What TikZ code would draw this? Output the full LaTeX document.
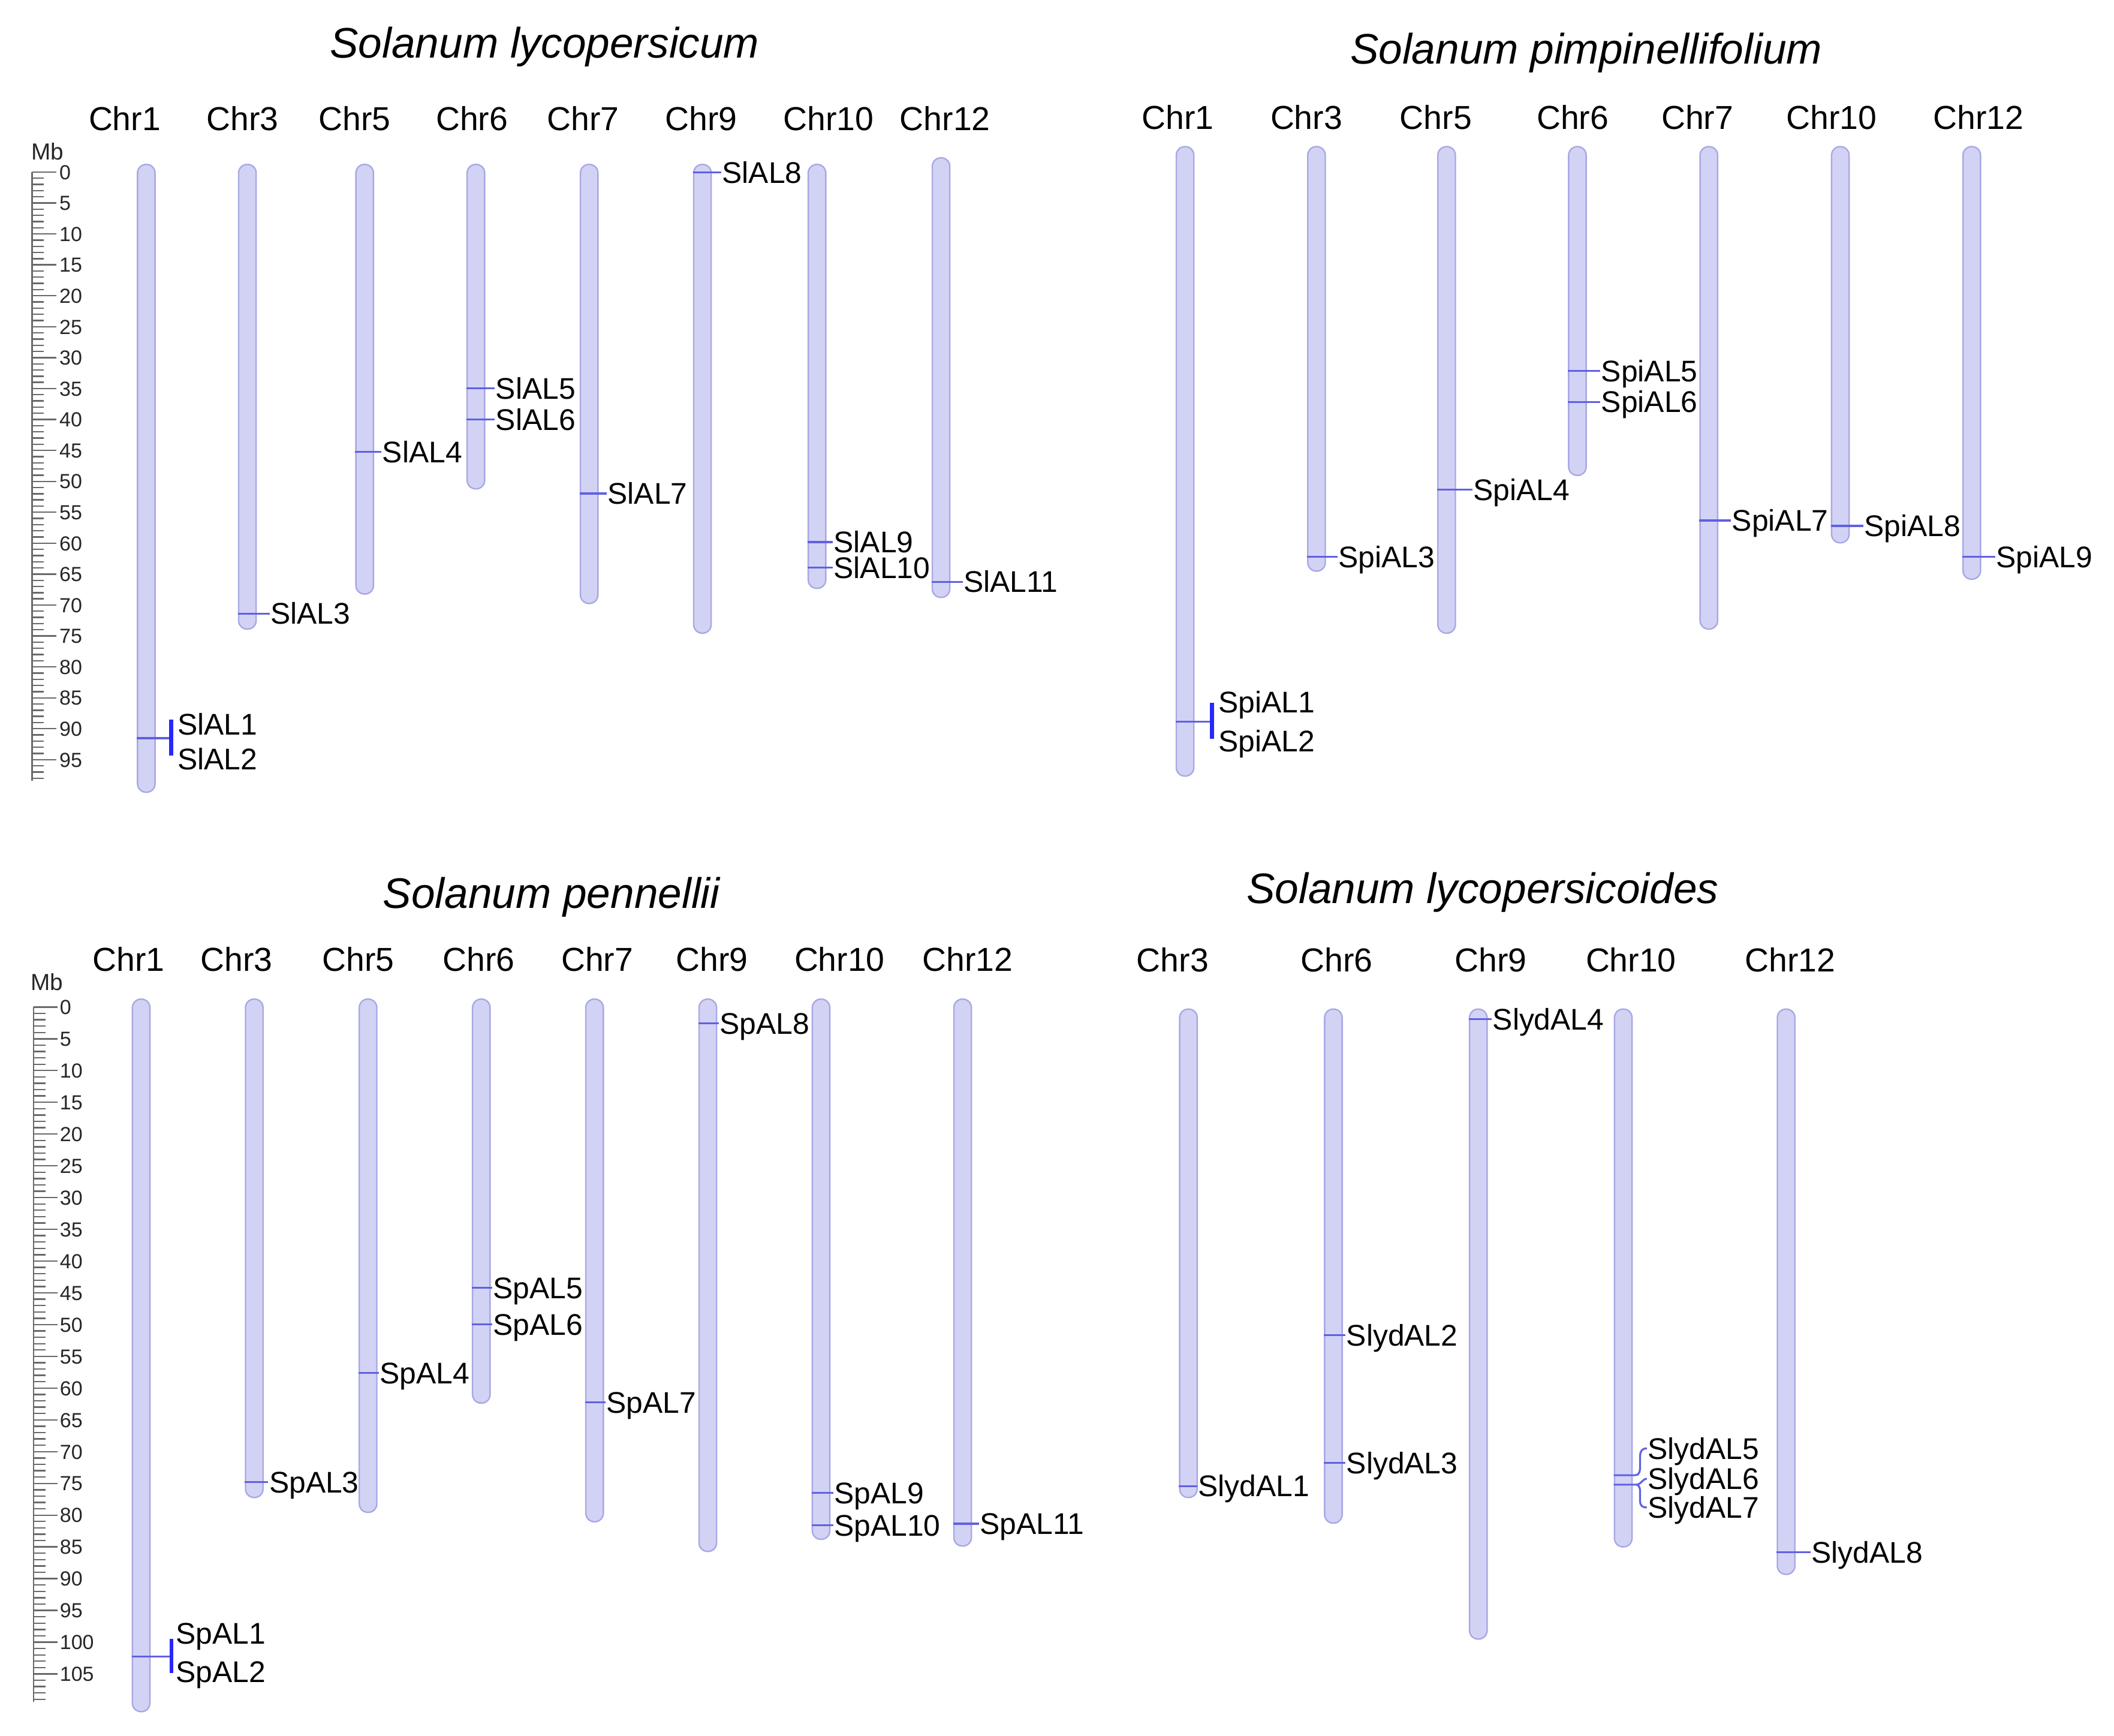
\documentclass[tikz,border=0pt]{standalone}
\usepackage{fontspec}
\setmainfont{Liberation Sans}

\definecolor{chrfill}{RGB}{210,210,245}
\definecolor{chredge}{RGB}{168,168,228}
\definecolor{marker}{RGB}{96,96,226}
\definecolor{brack}{RGB}{40,40,250}
\definecolor{ruler}{RGB}{105,105,105}

\tikzset{
  species/.style={anchor=base, inner sep=0pt, font=\fontsize{9}{11}\selectfont\itshape},
  chrname/.style={anchor=base, inner sep=0pt, font=\fontsize{7}{8}\selectfont},
  chrbar/.style={rectangle, anchor=north, inner sep=0pt, minimum width=0.13cm,
    fill=chrfill, draw=chredge, line width=0.3pt, rounded corners=1.8pt},
  gene/.style={anchor=west, inner sep=0pt, text height=4.5pt, text depth=0pt,
    font=\fontsize{6.3}{7}\selectfont},
  genemark/.style={draw=marker, line width=0.4pt},
  bracket/.style={draw=brack, line width=0.85pt},
  rulertick/.style={draw=ruler, line width=0.3pt},
  ticklabel/.style={anchor=west, inner sep=0pt, text height=3.1pt, text depth=0pt,
    font=\fontsize{4.3}{5}\selectfont, text=black!85},
  mbunit/.style={anchor=base west, inner sep=0pt, font=\fontsize{4.9}{5}\selectfont, text=black!85}
}

\newcommand{\gene}[4]{%
  \node[gene] (#4) at (#2,#3) {#4};
  \draw[genemark] (#1.west |- #4.west) -- (#4.west);}

\begin{document}
\begin{tikzpicture}[x=0.01cm, y=-0.01cm]
\path[use as bounding box, fill=white] (0,0) rectangle (1568,1287);

% Solanum lycopersicum
\node[species] (lyc) at (404,43) {Solanum lycopersicum};
\node[mbunit] (lyc-mb) at (22.5,118.5) {Mb};
\draw[rulertick] (23.8,127.6) -- (23.8,579);
\foreach \m in {0,...,98} \draw[rulertick] (23.8,{127.6+4.587*\m}) -- ++(8.5,0);
\foreach \m in {0,5,...,95}{
  \draw[rulertick] (23.8,{127.6+4.587*\m}) -- ++(17.8,0);
  \node[ticklabel] (lyc-t\m) at (43.4,{127.6+4.587*\m}) {\m};
}
\foreach \c/\lx/\x/\t/\b in {1/92.5/108.5/121.4/587, 3/180/183.5/121.4/466,
    5/263/270.5/121.4/440, 6/350/353/121.4/362, 7/432.5/437/121.4/447,
    9/520/521/121.4/469, 10/614.5/606/121.4/435.8, 12/701/698/116.5/442.5}{
  \node[chrname] (lyc\c-name) at (\lx,96.5) {Chr\c};
  \pgfmathsetmacro\len{(\b-\t)*0.01}
  \node[chrbar, minimum height=\len cm] (lyc\c) at (\x,\t) {};
}
\node[gene] (SlAL1) at (131,537) {SlAL1};
\node[gene] (SlAL2) at (131,562.8) {SlAL2};
\coordinate (lyc-j) at (127,547.4);
\draw[genemark] (lyc1.west |- lyc-j) -- (lyc-j);
\draw[bracket] (lyc-j) ++(0,-13.8) -- ++(0,26.7);
\gene{lyc3}{200}{455}{SlAL3}
\gene{lyc5}{283}{335}{SlAL4}
\gene{lyc6}{367}{288}{SlAL5}
\gene{lyc6}{367}{311}{SlAL6}
\gene{lyc7}{450}{366}{SlAL7}
\gene{lyc9}{535}{128}{SlAL8}
\gene{lyc10}{617.7}{402}{SlAL9}
\gene{lyc10}{617.7}{421}{SlAL10}
\gene{lyc12}{714}{431.4}{SlAL11}

% Solanum pimpinellifolium
\node[species] (pim) at (1176.5,47.4) {Solanum pimpinellifolium};
\foreach \c/\lx/\x/\b in {1/873.5/879/575, 3/969/976.5/423, 5/1065/1073/469,
    6/1166.5/1170/352, 7/1259/1267.5/466, 10/1358.5/1365/402, 12/1467.5/1462.5/429}{
  \node[chrname] (pim\c-name) at (\lx,96) {Chr\c};
  \pgfmathsetmacro\len{(\b-108.2)*0.01}
  \node[chrbar, minimum height=\len cm] (pim\c) at (\x,108.2) {};
}
\node[gene] (SpiAL1) at (903,520.5) {SpiAL1};
\node[gene] (SpiAL2) at (903,549.4) {SpiAL2};
\coordinate (pim-j) at (899,535);
\draw[genemark] (pim1.west |- pim-j) -- (pim-j);
\draw[bracket] (pim-j) ++(0,-14) -- ++(0,27);
\gene{pim3}{992}{413}{SpiAL3}
\gene{pim5}{1092}{363}{SpiAL4}
\gene{pim6}{1187}{275}{SpiAL5}
\gene{pim6}{1187}{298}{SpiAL6}
\gene{pim7}{1284}{386}{SpiAL7}
\gene{pim10}{1382}{390}{SpiAL8}
\gene{pim12}{1480}{413}{SpiAL9}

% Solanum pennellii
\node[species] (pen) at (409,673.7) {Solanum pennellii};
\node[mbunit] (pen-mb) at (22,734.5) {Mb};
\draw[rulertick] (24.9,746.8) -- (24.9,1262);
\foreach \m in {0,...,109} \draw[rulertick] (24.9,{746.8+4.71*\m}) -- ++(9,0);
\foreach \m in {0,5,...,105}{
  \draw[rulertick] (24.9,{746.8+4.71*\m}) -- ++(18,0);
  \node[ticklabel] (pen-t\m) at (43.7,{746.8+4.71*\m}) {\m};
}
\foreach \c/\lx/\x/\b in {1/95.5/104.7/1268.8, 3/175.5/188.6/1110, 5/265.75/273/1121,
    6/355/357/1040, 7/443/441/1128, 9/528/525/1150, 10/622.75/609/1141, 12/717.75/714/1146}{
  \node[chrname] (pen\c-name) at (\lx,720.4) {Chr\c};
  \pgfmathsetmacro\len{(\b-740.4)*0.01}
  \node[chrbar, minimum height=\len cm] (pen\c) at (\x,740.4) {};
}
\node[gene] (SpAL1) at (129.7,1211.3) {SpAL1};
\node[gene] (SpAL2) at (129.7,1239.5) {SpAL2};
\coordinate (pen-j) at (127.2,1228.6);
\draw[genemark] (pen1.west |- pen-j) -- (pen-j);
\draw[bracket] (pen-j) ++(0,-13.1) -- ++(0,25.2);
\gene{pen3}{199}{1099}{SpAL3}
\gene{pen5}{281}{1018}{SpAL4}
\gene{pen6}{365}{955}{SpAL5}
\gene{pen6}{365}{982}{SpAL6}
\gene{pen7}{449}{1040}{SpAL7}
\gene{pen9}{533}{759}{SpAL8}
\gene{pen10}{618}{1107}{SpAL9}
\gene{pen10}{618}{1131}{SpAL10}
\gene{pen12}{726}{1130}{SpAL11}

% Solanum lycopersicoides
\node[species] (lyd) at (1099.75,670) {Solanum lycopersicoides};
\foreach \c/\lx/\x/\b in {3/869.75/881.5/1110, 6/991.5/989/1129, 9/1105.75/1096.5/1215,
    10/1209.75/1204/1146.6, 12/1327.75/1324.8/1167}{
  \node[chrname] (lyd\c-name) at (\lx,720.7) {Chr\c};
  \pgfmathsetmacro\len{(\b-747.8)*0.01}
  \node[chrbar, minimum height=\len cm] (lyd\c) at (\x,747.8) {};
}
\gene{lyd3}{888}{1102}{SlydAL1}
\gene{lyd6}{998}{990}{SlydAL2}
\gene{lyd6}{998}{1085}{SlydAL3}
\gene{lyd9}{1106.5}{755.7}{SlydAL4}
\node[gene] (SlydAL5) at (1221.5,1074.1) {SlydAL5};
\node[gene] (SlydAL6) at (1221.5,1096.5) {SlydAL6};
\node[gene] (SlydAL7) at (1221.5,1117.9) {SlydAL7};
\coordinate (lyd-j5) at (1213,1094);
\coordinate (lyd-j6) at (1214,1101);
\draw[genemark] (lyd10.west |- lyd-j5) -- (lyd-j5) .. controls (1216,1094) and (1216.5,1091) .. (1216.5,1087)
  -- (1216.5,1080) .. controls (1216.5,1076) and (1218,1074.1) .. (SlydAL5.west);
\draw[genemark] (lyd10.west |- lyd-j6) -- (lyd-j6) .. controls (1217,1101) and (1218,1097) .. (SlydAL6.west);
\draw[genemark] (lyd-j6) .. controls (1216.5,1102) and (1216.5,1104) .. (1216.5,1108)
  -- (1216.5,1113) .. controls (1216.5,1116.5) and (1218,1117.9) .. (SlydAL7.west);
\gene{lyd12}{1343}{1151}{SlydAL8}
\end{tikzpicture}
\end{document}
